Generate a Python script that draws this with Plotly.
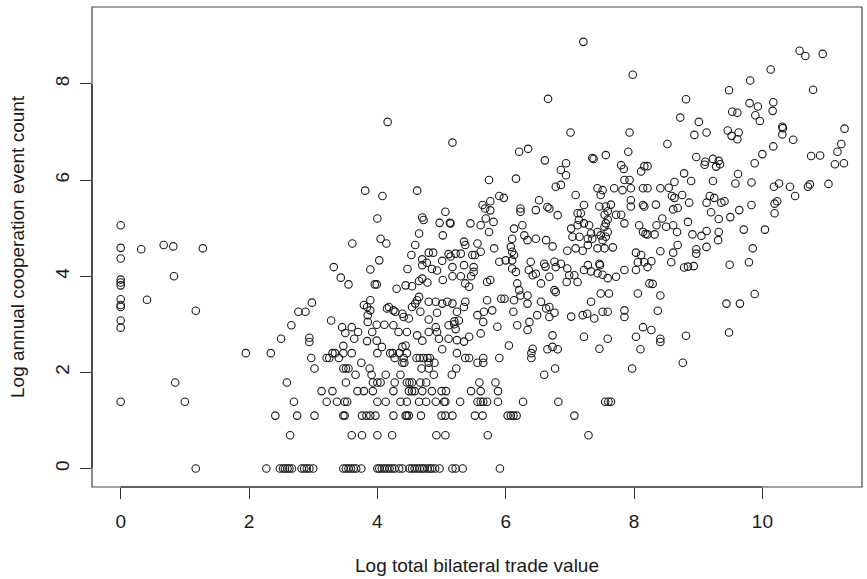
import plotly.graph_objects as go

# ---- data: (log total bilateral trade value, log annual cooperation event count) ----
zero_trade_counts = [5.06, 4.59, 4.37, 3.93, 3.87, 3.81, 3.52, 3.40, 3.36, 3.08, 2.93, 1.39]

low_trade = [(0.32, 4.56), (0.67, 4.65), (0.82, 4.62), (1.28, 4.58), (0.83, 4.00), (0.41, 3.51),
             (1.17, 3.28), (1.95, 2.40), (0.85, 1.79), (1.00, 1.39), (1.17, 0.00), (2.50, 2.70)]

# points lying on the discrete count levels (log of small integer counts)
level_0_x = [2.27, 2.48, 2.53, 2.56, 2.60, 2.63, 2.67, 2.82, 2.86, 2.90, 2.94, 3.00, 3.47, 3.51,
             3.55, 3.59, 3.63, 3.67, 3.75, 4.00, 4.03, 4.07, 4.11, 4.15, 4.19, 4.23, 4.27, 4.34,
             4.39, 4.50, 4.54, 4.58, 4.62, 4.66, 4.70, 4.73, 4.78, 4.82, 4.85, 4.90, 4.97, 5.17,
             5.22, 5.33, 5.91]
level_069_x = [2.64, 3.60, 3.76, 4.00, 4.23, 4.92, 5.06, 5.72, 7.29]
level_110_x = [2.41, 2.75, 3.02, 3.47, 3.49, 3.76, 3.83, 3.89, 3.97, 4.25, 4.44, 4.46, 4.49, 4.68,
               5.00, 5.06, 5.17, 5.52, 5.64, 6.03, 6.08, 6.12, 6.17, 7.07]
level_139_x = [2.70, 3.21, 3.37, 3.49, 3.53, 4.00, 4.13, 4.36, 4.46, 4.65, 4.76, 4.91, 5.04, 5.06,
               5.29, 5.56, 5.61, 5.65, 5.71, 5.88, 6.27, 6.82, 7.55, 7.60, 7.64]
level_161_x = [3.13, 3.30, 3.69, 3.79, 3.93, 4.25, 4.49, 4.54, 4.58, 4.70, 4.85, 5.00, 5.07, 5.46,
               5.61, 5.88]
level_179_x = [2.59, 3.51, 3.93, 4.00, 4.05, 4.27, 4.46, 4.50, 4.54, 4.67, 4.76, 5.59, 5.84]
level_195_x = [3.66, 3.91, 4.13, 4.36, 4.88, 5.16, 6.60]
level_208_x = [3.02, 3.47, 3.51, 3.55, 3.88, 4.69, 4.80, 5.23, 6.77, 7.97]
level_220_x = [3.75, 4.39, 4.42, 4.80, 4.89, 5.56, 5.65, 8.76]
level_230_x = [2.97, 3.21, 3.25, 3.40, 4.27, 4.41, 4.61, 4.66, 4.72, 4.78, 4.82, 5.37, 5.43, 5.65,
               5.90, 6.40]
level_240_x = [2.34, 3.30, 3.34, 3.47, 3.60, 4.00, 4.20, 4.24, 4.34, 4.46, 5.24, 6.40]

levels = [0.00, 0.69, 1.10, 1.39, 1.61, 1.79, 1.95, 2.08, 2.20, 2.30, 2.40]
level_x = [level_0_x, level_069_x, level_110_x, level_139_x, level_161_x, level_179_x,
           level_195_x, level_208_x, level_220_x, level_230_x, level_240_x]

upper_pts = [(4.16, 7.21), (5.17, 6.78), (7.21, 8.875), (7.98, 8.19), (6.66, 7.69), (7.01, 6.99),
             (7.93, 6.99), (6.21, 6.59), (6.35, 6.65), (6.61, 6.41), (6.94, 6.35), (6.86, 6.21),
             (6.94, 6.10), (7.35, 6.46), (7.37, 6.44), (7.56, 6.52), (7.91, 6.59), (7.80, 6.31),
             (7.84, 6.23), (8.16, 6.29), (8.21, 6.29), (8.11, 6.18), (6.16, 6.03), (5.74, 6.00)]

right_upper_pts = [(10.58, 8.69), (10.67, 8.58), (10.94, 8.625), (10.13, 8.30), (9.81, 8.07),
                   (9.48, 7.87), (10.79, 7.88), (8.81, 7.68), (8.72, 7.30), (9.01, 7.21), (8.94, 6.94),
                   (9.13, 6.99), (8.52, 6.75), (9.53, 7.42), (9.61, 7.40), (9.80, 7.60), (9.93, 7.53),
                   (9.89, 7.35), (9.96, 7.23), (10.17, 7.62), (10.16, 7.44), (9.46, 7.03), (9.63, 6.99),
                   (9.52, 6.92), (9.61, 6.85), (10.31, 7.11), (10.32, 7.08), (10.31, 6.95), (10.48, 6.84),
                   (10.17, 6.70), (10.00, 6.54), (9.88, 6.35), (11.28, 7.07), (11.23, 6.75), (11.17, 6.59),
                   (11.13, 6.33), (11.27, 6.35), (10.76, 6.50), (10.90, 6.51), (8.97, 6.48), (9.11, 6.38),
                   (9.10, 6.32), (9.23, 6.44), (9.32, 6.40), (9.28, 6.28), (9.34, 6.33), (8.78, 6.14),
                   (9.62, 6.125)]

right_mid_pts = [(8.89, 5.98), (9.23, 5.98), (9.58, 5.93), (9.83, 5.95), (10.18, 5.86), (10.26, 5.93),
                 (10.43, 5.86), (10.51, 5.67), (10.71, 5.86), (10.74, 5.91), (11.03, 5.92), (8.41, 5.83),
                 (8.54, 5.84), (8.63, 5.96), (8.59, 5.67), (8.63, 5.63), (8.75, 5.69), (8.86, 5.53),
                 (8.68, 5.42), (8.61, 5.39), (8.34, 5.49), (9.18, 5.67), (9.25, 5.63), (9.36, 5.53),
                 (9.41, 5.56), (9.13, 5.53), (9.20, 5.33), (9.32, 5.19), (9.50, 5.23), (9.64, 5.375),
                 (9.83, 5.48), (10.19, 5.51), (10.23, 5.56), (10.19, 5.31), (9.71, 4.97), (10.04, 4.97),
                 (9.85, 4.58), (9.79, 4.29), (9.49, 4.24), (9.88, 3.63), (9.44, 3.43), (9.65, 3.43),
                 (9.48, 2.83), (8.81, 2.76), (8.41, 2.70), (8.41, 2.63), (8.27, 2.88), (8.37, 3.28),
                 (8.41, 3.60), (8.29, 3.84), (8.41, 4.52), (8.61, 4.49), (8.58, 4.29), (8.68, 4.65),
                 (8.78, 4.18), (8.84, 4.20), (8.93, 4.21), (8.97, 4.56), (8.97, 4.47), (9.13, 4.61),
                 (8.91, 4.87), (9.05, 4.84), (9.13, 4.94), (9.32, 4.92), (9.31, 4.75), (8.84, 5.13),
                 (8.67, 4.92), (8.61, 5.06), (8.50, 5.03), (8.44, 5.20), (8.35, 5.06), (8.32, 4.87),
                 (8.21, 4.87), (8.27, 4.31)]

center_left_pts = [(3.81, 5.78), (4.08, 5.67), (4.62, 5.78), (4.00, 5.20), (5.06, 5.34), (4.70, 5.22),
                   (4.72, 5.17), (4.97, 5.11), (5.13, 5.11), (5.02, 4.85), (4.65, 4.89), (4.05, 4.78),
                   (4.14, 4.68), (3.61, 4.68), (4.59, 4.65), (4.53, 4.44), (4.70, 4.35), (4.80, 4.49),
                   (4.87, 4.49), (5.11, 4.46), (5.01, 4.32), (4.03, 4.33), (3.32, 4.19), (3.89, 4.14),
                   (4.47, 4.15), (4.70, 4.23), (4.77, 4.28), (4.85, 4.15), (4.93, 4.12), (5.17, 4.19),
                   (3.43, 3.97), (3.55, 3.83), (3.96, 3.83), (3.99, 3.83), (4.30, 3.74), (4.44, 3.81),
                   (4.54, 3.79), (4.65, 3.90), (4.70, 3.95), (4.78, 3.87), (5.02, 3.92), (3.89, 3.50),
                   (3.79, 3.40), (2.98, 3.45), (2.77, 3.26), (2.88, 3.26), (2.66, 2.98), (2.94, 2.72),
                   (2.94, 2.63), (3.28, 3.08), (3.45, 2.94), (3.60, 2.94), (3.50, 2.82), (3.64, 2.70),
                   (3.70, 2.84), (3.84, 3.36), (3.89, 3.29), (3.85, 3.19), (3.85, 3.05), (3.99, 2.99),
                   (4.11, 2.99), (3.92, 2.84), (3.84, 2.65), (3.99, 2.66), (4.07, 2.53), (4.15, 3.33),
                   (4.18, 3.36), (4.25, 3.29), (4.28, 3.26), (4.39, 3.22), (4.41, 3.15), (4.49, 3.12),
                   (4.54, 3.36), (4.59, 3.43), (4.62, 3.50), (4.65, 3.57), (4.67, 3.26), (4.80, 3.47),
                   (4.91, 3.47), (5.01, 3.43), (5.09, 3.47), (4.93, 3.24), (4.80, 3.10), (5.11, 2.98),
                   (4.25, 2.98), (4.33, 2.84), (4.46, 2.84), (4.62, 2.77), (4.70, 2.66), (4.80, 2.84),
                   (4.91, 2.94), (4.93, 2.84), (4.96, 2.70), (5.01, 2.48), (5.11, 2.70), (4.39, 2.53),
                   (4.44, 2.56), (3.47, 2.55)]

center_right_pts = [(6.78, 5.86), (6.86, 5.90), (7.09, 5.69), (7.43, 5.83), (7.51, 5.79), (7.48, 5.69),
                    (7.69, 5.83), (7.82, 5.79), (7.85, 6.00), (7.93, 6.00), (7.95, 5.83), (8.14, 5.83),
                    (8.21, 5.83), (5.90, 5.67), (5.97, 5.63), (5.64, 5.48), (5.76, 5.56), (5.68, 5.41),
                    (5.76, 5.37), (6.52, 5.58), (6.23, 5.41), (6.23, 5.34), (6.47, 5.375), (6.65, 5.44),
                    (6.68, 5.41), (6.81, 5.27), (7.12, 5.31), (7.17, 5.31), (7.22, 5.48), (7.14, 5.17),
                    (7.30, 5.06), (7.46, 5.45), (7.56, 5.45), (7.64, 5.49), (7.59, 5.35), (7.54, 5.28),
                    (7.59, 5.18), (7.72, 5.28), (7.80, 5.28), (7.85, 5.10), (7.95, 5.45), (7.95, 5.58),
                    (8.14, 5.48), (8.16, 5.45), (8.08, 5.06), (8.14, 4.92), (8.18, 4.88), (5.14, 5.10),
                    (5.45, 5.10), (5.61, 5.06), (5.69, 5.20), (5.81, 5.13), (5.74, 4.92), (6.13, 4.99),
                    (6.26, 5.06), (6.29, 4.85), (6.34, 4.75), (6.47, 4.78), (6.63, 4.75), (6.10, 4.78),
                    (5.35, 4.72), (5.37, 4.65), (5.22, 4.47), (5.30, 4.47), (5.56, 4.68), (5.61, 4.51),
                    (5.48, 4.44), (5.52, 4.44), (5.82, 4.58), (6.08, 4.61), (6.10, 4.51), (6.13, 4.44),
                    (6.10, 4.33), (5.90, 4.30), (6.00, 4.33), (6.10, 4.16), (6.16, 4.09), (6.39, 4.30),
                    (6.36, 4.13), (6.42, 4.02), (6.47, 4.05), (6.60, 4.26), (6.62, 4.20), (6.76, 4.30),
                    (6.78, 4.19), (6.86, 4.26), (6.73, 4.62), (6.96, 4.53), (7.09, 4.58), (7.20, 4.53),
                    (7.28, 4.65), (7.43, 4.58), (7.54, 4.58), (7.67, 4.60), (7.04, 4.82), (7.15, 4.82),
                    (7.28, 4.78), (7.33, 4.89), (7.35, 4.78), (7.43, 4.92), (7.48, 4.85), (7.51, 4.75),
                    (7.56, 4.82), (7.59, 4.92), (7.54, 5.03), (7.56, 5.10), (7.02, 4.99), (7.12, 5.06),
                    (7.22, 5.10), (7.46, 4.26), (7.47, 4.23), (7.28, 4.23), (7.22, 4.13), (7.33, 4.10),
                    (7.43, 4.06), (7.51, 4.03), (7.59, 3.96), (7.72, 3.99), (7.85, 4.13), (8.03, 4.13),
                    (8.06, 4.29), (8.16, 4.29), (8.21, 4.19), (8.24, 3.85), (8.06, 3.64), (8.03, 4.49),
                    (8.11, 4.44), (6.96, 4.16), (6.99, 4.02), (7.07, 4.02), (7.12, 3.88), (6.95, 3.88),
                    (7.33, 3.47), (7.48, 3.64), (7.61, 3.64), (7.51, 3.26), (7.59, 3.26), (7.85, 3.29),
                    (7.85, 3.15), (7.02, 3.16), (7.20, 3.19), (7.27, 3.22), (7.38, 3.12), (7.22, 2.74),
                    (7.59, 2.70), (8.03, 2.74), (8.14, 2.94), (8.10, 2.48), (7.46, 2.49), (6.73, 2.77),
                    (6.73, 2.53), (6.65, 2.48), (6.81, 2.48), (6.42, 2.49), (6.05, 2.56), (5.87, 2.95),
                    (5.61, 2.81), (5.43, 2.74), (5.35, 2.64), (5.24, 2.67), (5.20, 3.00), (5.22, 2.90),
                    (5.20, 3.06), (5.27, 3.08), (5.24, 3.26), (5.17, 3.43), (5.37, 3.47), (5.35, 3.36),
                    (5.56, 3.19), (5.66, 3.26), (5.65, 3.05), (5.79, 3.29), (5.71, 3.50), (5.93, 3.53),
                    (5.98, 3.53), (6.13, 3.50), (6.21, 3.71), (6.23, 3.60), (6.18, 3.85), (6.34, 3.60),
                    (6.34, 3.43), (6.12, 3.26), (6.18, 2.98), (6.37, 3.05), (6.34, 2.88), (6.49, 3.19),
                    (6.55, 3.47), (6.63, 3.33), (6.68, 3.36), (6.76, 3.71), (6.78, 3.67), (6.76, 3.24),
                    (6.68, 3.15), (6.55, 3.85), (6.68, 3.99), (5.14, 4.41), (5.17, 4.00), (5.30, 4.00),
                    (5.37, 3.85), (5.43, 3.78), (5.50, 4.09), (5.46, 4.00), (5.71, 3.88), (5.76, 3.92),
                    (5.35, 4.23), (5.50, 4.19)]

x_ticks = [0, 2, 4, 6, 8, 10]
y_ticks = [0, 2, 4, 6, 8]

# ---- assemble ----
xs, ys = [], []
for v in zero_trade_counts:
    xs.append(0.0)
    ys.append(v)
for lvl, row in zip(levels, level_x):
    for v in row:
        xs.append(v)
        ys.append(lvl)
for group in (low_trade, upper_pts, right_upper_pts, right_mid_pts, center_left_pts, center_right_pts):
    for a, b in group:
        xs.append(a)
        ys.append(b)

W, H = 867, 579
L, T, B, R = 92, 7, 92, 5
x_range = [-0.447, -0.447 + (W - L - R) / 64.17]
y_range = [-0.385, -0.385 + (H - T - B) / 48.07]

FONT = "Liberation Sans, Arial, Helvetica, sans-serif"
INK = "#1a1a1a"

fig = go.Figure()
fig.add_trace(go.Scatter(
    x=xs, y=ys, mode="markers",
    marker=dict(symbol="circle-open", size=7.5, color=INK, line=dict(width=1.1, color=INK)),
    showlegend=False, hoverinfo="skip", cliponaxis=False,
))

fig.update_layout(
    width=W, height=H,
    margin=dict(l=L, r=R, t=T, b=B, pad=0),
    plot_bgcolor="white", paper_bgcolor="white",
    font=dict(family=FONT, size=19, color=INK),
    showlegend=False,
)
fig.update_xaxes(
    range=x_range, tickvals=x_ticks, ticktext=[str(v) for v in x_ticks],
    ticks="outside", ticklen=11, tickwidth=1, tickcolor="#333",
    showgrid=False, zeroline=False, showline=False, ticklabelstandoff=6,
    tickfont=dict(family=FONT, size=19, color=INK),
)
fig.update_yaxes(
    range=y_range, tickvals=y_ticks, ticktext=[str(v) for v in y_ticks],
    ticks="outside", ticklen=11, tickwidth=1, tickcolor="#333", tickangle=-90,
    showgrid=False, zeroline=False, showline=False, ticklabelstandoff=3,
    tickfont=dict(family=FONT, size=19, color=INK),
)

# box around plot region
fig.add_shape(type="rect", xref="paper", yref="paper", x0=0, x1=1, y0=0, y1=1,
              line=dict(color="#444", width=1.2), layer="above")
# axis lines spanning first to last tick
axis_line = dict(color="#222", width=1.2)
fig.add_shape(type="line", xref="x", yref="paper", x0=x_ticks[0], x1=x_ticks[-1], y0=0, y1=0, line=axis_line)
fig.add_shape(type="line", xref="paper", yref="y", x0=0, x1=0, y0=y_ticks[0], y1=y_ticks[-1], line=axis_line)

plot_h = H - T - B
plot_w = W - L - R
fig.add_annotation(
    text="Log total bilateral trade value", xref="x", yref="paper",
    x=(x_range[0] + x_range[1]) / 2, y=(H - B - 565) / plot_h,
    showarrow=False, xanchor="center", yanchor="middle",
    font=dict(family=FONT, size=19, color=INK),
)
fig.add_annotation(
    text="Log annual cooperation event count", xref="paper", yref="paper",
    x=(17 - L) / plot_w, y=0.5, textangle=-90,
    showarrow=False, xanchor="center", yanchor="middle",
    font=dict(family=FONT, size=19, color=INK),
)

fig.write_html("out.html")
